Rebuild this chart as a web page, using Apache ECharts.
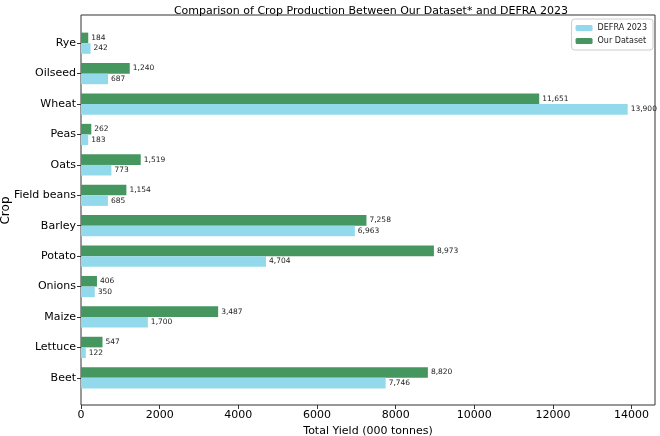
<!DOCTYPE html>
<html lang="en">
<head>
    <meta charset="UTF-8">
    <title>echarts</title>
    <script src="https://cdn.jsdelivr.net/npm/echarts/dist/echarts.min.js"></script>
    <style>
        body { margin: 0; background: #fff; }
    </style>
</head>
<body>
<div id="main" style="width: 660px;height:436px;"></div>
<script type="text/javascript">
    // categories listed bottom -> top
    var crops = ['Beet', 'Lettuce', 'Maize', 'Onions', 'Potato', 'Barley', 'Field beans', 'Oats', 'Peas', 'Wheat', 'Oilseed', 'Rye'];
    var defra2023 = [7746, 122, 1700, 350, 4704, 6963, 685, 773, 183, 13900, 687, 242];
    var ourDataset = [8820, 547, 3487, 406, 8973, 7258, 1154, 1519, 262, 11651, 1240, 184];
    var xTicks = [0, 2000, 4000, 6000, 8000, 10000, 12000, 14000];

    var font = 'DejaVu Sans';
    var xMax = 14595;
    var chart = echarts.init(document.getElementById('main'));

    function barLabel() {
        return {
            show: true,
            position: 'right',
            distance: 3,
            fontFamily: font,
            fontSize: 7.5,
            color: '#222',
            formatter: function (p) { return p.value.toLocaleString('en-US'); }
        };
    }

    var option = {
        animation: false,
        title: {
            text: 'Comparison of Crop Production Between Our Dataset* and DEFRA 2023',
            left: 366,
            top: 1,
            textAlign: 'center',
            textStyle: { fontFamily: font, fontSize: 11, fontWeight: 'normal', color: '#000' }
        },
        legend: {
            orient: 'vertical',
            right: 7,
            top: 19,
            itemWidth: 17,
            itemHeight: 6,
            itemGap: 5,
            padding: [5, 6, 5, 4],
            borderColor: '#ccc',
            borderWidth: 1,
            borderRadius: 3,
            textStyle: { fontFamily: font, fontSize: 8, color: '#222' },
            data: ['DEFRA 2023', 'Our Dataset']
        },
        grid: [
            { left: 81, right: 5, top: 15, bottom: 31, show: true, borderColor: '#333', borderWidth: 1, outerBoundsMode: 'none', containLabel: false },
            { left: 81, right: 5, top: 28, bottom: 43, outerBoundsMode: 'none', containLabel: false }
        ],
        xAxis: [
            {
                gridIndex: 0, type: 'value', min: 0, max: xMax,
                name: 'Total Yield (000 tonnes)', nameLocation: 'middle', nameGap: 16,
                nameTextStyle: { fontFamily: font, fontSize: 11, color: '#000' },
                axisLine: { show: false },
                axisTick: { show: true, length: 4, lineStyle: { color: '#333' }, customValues: xTicks },
                axisLabel: {
                    fontFamily: font, fontSize: 11, color: '#000', margin: 5, customValues: xTicks,
                    formatter: function (v) { return String(v); }
                },
                splitLine: { show: false }
            },
            { gridIndex: 1, type: 'value', min: 0, max: xMax, show: false }
        ],
        yAxis: [
            { gridIndex: 0, type: 'value', show: false },
            {
                gridIndex: 1, type: 'category', data: crops,
                name: 'Crop', nameLocation: 'middle', nameGap: 69, nameMoveOverlap: false,
                nameTextStyle: { fontFamily: font, fontSize: 12, color: '#000' },
                axisLine: { show: false },
                axisTick: { show: true, alignWithLabel: true, length: 4, lineStyle: { color: '#333' } },
                axisLabel: { fontFamily: font, fontSize: 11, color: '#000', margin: 5 }
            }
        ],
        series: [
            {
                name: 'Our Dataset', type: 'bar', xAxisIndex: 1, yAxisIndex: 1,
                data: ourDataset, barWidth: 10.6, barGap: '0%',
                itemStyle: { color: '#45965f' },
                label: barLabel()
            },
            {
                name: 'DEFRA 2023', type: 'bar', xAxisIndex: 1, yAxisIndex: 1,
                data: defra2023, barWidth: 10.6, barGap: '0%',
                itemStyle: { color: '#93d9ec' },
                label: barLabel()
            }
        ]
    };

    chart.setOption(option);
</script>
</body>
</html>
